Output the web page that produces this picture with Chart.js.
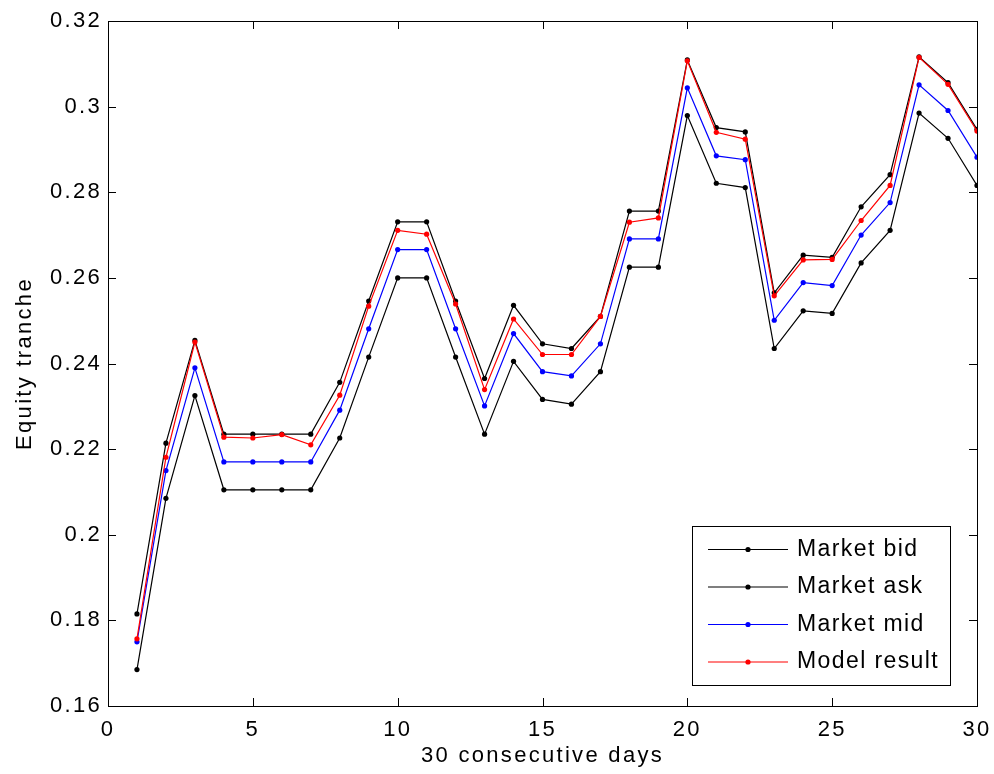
<!DOCTYPE html>
<html>
<head>
<meta charset="utf-8">
<script src="https://cdn.jsdelivr.net/npm/chart.js@4.4.0/dist/chart.umd.min.js"></script>
<style>
  html, body { margin: 0; padding: 0; background: #fff; }
  #wrap { width: 994px; height: 774px; }
</style>
</head>
<body>
<div id="wrap"><canvas id="chart" width="994" height="774"></canvas></div>
<script>
// values
const days = [1, 2, 3, 4, 5, 6, 7, 8, 9, 10, 11, 12, 13, 14, 15, 16, 17, 18, 19, 20, 21, 22, 23, 24, 25, 26, 27, 28, 29, 30];
const marketBid = [0.1685, 0.2085, 0.2325, 0.2105, 0.2105, 0.2105, 0.2105, 0.2226, 0.2415, 0.2600,
                   0.2600, 0.2415, 0.2235, 0.2405, 0.2316, 0.2305, 0.2381, 0.2625, 0.2625, 0.2979,
                   0.2821, 0.2811, 0.2435, 0.2523, 0.2517, 0.2635, 0.2711, 0.2985, 0.2926, 0.2816];
const marketAsk = [0.1815, 0.2214, 0.2454, 0.2235, 0.2235, 0.2235, 0.2235, 0.2356, 0.2546, 0.2731,
                   0.2731, 0.2546, 0.2365, 0.2536, 0.2446, 0.2435, 0.2510, 0.2756, 0.2756, 0.3109,
                   0.2951, 0.2941, 0.2565, 0.2653, 0.2648, 0.2766, 0.2841, 0.3116, 0.3056, 0.2947];
const marketMid = [0.1750, 0.2150, 0.2390, 0.2170, 0.2170, 0.2170, 0.2170, 0.2291, 0.2481, 0.2666,
                   0.2666, 0.2481, 0.2301, 0.2470, 0.2381, 0.2371, 0.2446, 0.2691, 0.2691, 0.3044,
                   0.2885, 0.2876, 0.2501, 0.2589, 0.2582, 0.2700, 0.2776, 0.3051, 0.2991, 0.2882];
const modelResult = [0.1757, 0.2181, 0.2450, 0.2228, 0.2226, 0.2234, 0.2210, 0.2326, 0.2534, 0.2711,
                     0.2702, 0.2539, 0.2339, 0.2504, 0.2421, 0.2421, 0.2510, 0.2730, 0.2740, 0.3107,
                     0.2940, 0.2924, 0.2558, 0.2642, 0.2643, 0.2734, 0.2816, 0.3115, 0.3052, 0.2943];
const seriesNames = ['Market bid', 'Market ask', 'Market mid', 'Model result'];
const xTicks = [0, 5, 10, 15, 20, 25, 30];
const yTicks = [0.16, 0.18, 0.2, 0.22, 0.24, 0.26, 0.28, 0.3, 0.32];

const FONT = 'Liberation Sans, Arial, Helvetica, sans-serif';

function pts(vals) {
  return days.map((d, i) => ({ x: d, y: vals[i] }));
}

function series(label, vals, color, order) {
  return {
    label: label,
    data: pts(vals),
    borderColor: color,
    backgroundColor: color,
    borderWidth: 1.2,
    pointRadius: 2.6,
    pointBorderWidth: 0,
    pointBackgroundColor: color,
    tension: 0,
    order: order
  };
}

// matlab style letter spacing for axis text
const spacing = {
  id: 'spacing',
  beforeDraw(chart) {
    chart.ctx.letterSpacing = '2.3px';
  }
};

// box round the plot with ticks pointing inward
const frame = {
  id: 'frame',
  afterDraw(chart) {
    const { ctx, chartArea: a } = chart;
    const xs = chart.scales.x, ys = chart.scales.y;
    const tl = 8;
    ctx.save();
    ctx.strokeStyle = '#000';
    ctx.lineWidth = 1;
    ctx.beginPath();
    xTicks.forEach(v => {
      const px = Math.round(xs.getPixelForValue(v)) + 0.5;
      ctx.moveTo(px, a.bottom); ctx.lineTo(px, a.bottom - tl);
      ctx.moveTo(px, a.top); ctx.lineTo(px, a.top + tl);
    });
    yTicks.forEach(v => {
      const py = Math.round(ys.getPixelForValue(v)) + 0.5;
      ctx.moveTo(a.left, py); ctx.lineTo(a.left + tl, py);
      ctx.moveTo(a.right, py); ctx.lineTo(a.right - tl, py);
    });
    ctx.stroke();
    ctx.strokeRect(Math.round(a.left) + 0.5, Math.round(a.top) + 0.5,
                   Math.round(a.right - a.left), Math.round(a.bottom - a.top));
    ctx.restore();
  }
};

// legend box in the lower right corner
const boxLegend = {
  id: 'boxLegend',
  afterDraw(chart) {
    const ctx = chart.ctx;
    const bx = 692.5, by = 526.5, bw = 258, bh = 159;
    const rows = [549.5, 587, 624.5, 662];
    ctx.save();
    ctx.fillStyle = '#fff';
    ctx.fillRect(bx, by, bw, bh);
    ctx.strokeStyle = '#000';
    ctx.lineWidth = 1;
    ctx.strokeRect(bx, by, bw, bh);
    ctx.font = '23px ' + FONT;
    ctx.letterSpacing = '1.4px';
    ctx.textBaseline = 'middle';
    ctx.textAlign = 'left';
    chart.data.datasets.forEach((ds, i) => {
      const y = rows[i];
      ctx.strokeStyle = ds.borderColor;
      ctx.lineWidth = 1.2;
      ctx.beginPath();
      ctx.moveTo(708, y); ctx.lineTo(788, y);
      ctx.stroke();
      ctx.fillStyle = ds.borderColor;
      ctx.beginPath();
      ctx.arc(748, y, 2.6, 0, Math.PI * 2);
      ctx.fill();
      ctx.fillStyle = '#000';
      ctx.fillText(ds.label, 797, y);
    });
    ctx.restore();
  }
};

new Chart(document.getElementById('chart'), {
  type: 'line',
  data: {
    datasets: [
      series(seriesNames[0], marketBid, '#000000', 4),
      series(seriesNames[1], marketAsk, '#000000', 3),
      series(seriesNames[2], marketMid, '#0000ff', 2),
      series(seriesNames[3], modelResult, '#ff0000', 1)
    ]
  },
  options: {
    responsive: false,
    devicePixelRatio: 1,
    animation: false,
    layout: { padding: { top: 21, right: 17, left: 0, bottom: 0 } },
    plugins: { legend: { display: false }, tooltip: { enabled: false } },
    scales: {
      x: {
        type: 'linear',
        min: 0,
        max: 30,
        afterFit(scale) {
          scale.height = 68;
          scale.paddingLeft = 0;
          scale.paddingRight = 0;
        },
        afterBuildTicks(scale) { scale.ticks = xTicks.map(v => ({ value: v })); },
        grid: { display: false, drawTicks: false },
        border: { display: false },
        ticks: {
          padding: 11,
          maxRotation: 0,
          color: '#000',
          font: { family: FONT, size: 22 }
        },
        title: {
          display: true,
          text: '30 consecutive days',
          color: '#000',
          font: { family: FONT, size: 22, lineHeight: 1.27 }
        }
      },
      y: {
        type: 'linear',
        min: 0.16,
        max: 0.32,
        afterFit(scale) {
          scale.width = 108;
          scale.paddingTop = 0;
          scale.paddingBottom = 0;
        },
        afterBuildTicks(scale) { scale.ticks = yTicks.map(v => ({ value: v })); },
        grid: { display: false, drawTicks: false },
        border: { display: false },
        ticks: {
          padding: 6,
          color: '#000',
          font: { family: FONT, size: 22 },
          callback: v => String(+v.toFixed(2))
        },
        title: {
          display: true,
          text: 'Equity tranche',
          color: '#000',
          font: { family: FONT, size: 22, lineHeight: 1.91 }
        }
      }
    }
  },
  plugins: [spacing, frame, boxLegend]
});
</script>
</body>
</html>
